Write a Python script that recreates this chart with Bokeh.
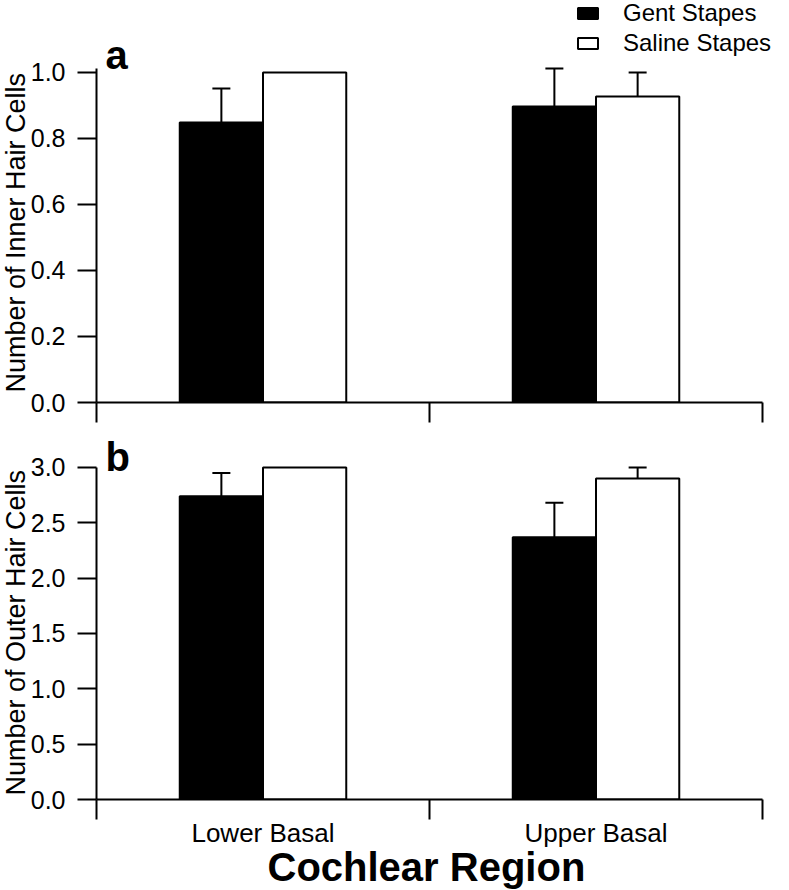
import numpy as np
from bokeh.plotting import figure
from bokeh.models import (ColumnDataSource, Whisker, TeeHead, FixedTicker, Title,
                          NumeralTickFormatter, Legend, LegendItem, Label, Range1d)
from bokeh.layouts import column
from bokeh.embed import file_html
from bokeh.resources import INLINE

# ---------------- data ----------------
categories = ["Lower Basal", "Upper Basal"]
series_names = ["Gent Stapes", "Saline Stapes"]

inner_gent = [0.848, 0.897]
inner_gent_err = [0.103, 0.115]
inner_saline = [1.00, 0.927]
inner_saline_err = [0.0, 0.073]

outer_gent = [2.74, 2.37]
outer_gent_err = [0.21, 0.31]
outer_saline = [3.00, 2.90]
outer_saline_err = [0.0, 0.10]

inner_ticks = [0.0, 0.2, 0.4, 0.6, 0.8, 1.0]
outer_ticks = [0.0, 0.5, 1.0, 1.5, 2.0, 2.5, 3.0]

FONT = "Liberation Sans"
BAR_W = 0.25
X_END = 2.033   # a little room right of the axis end for the legend text


def make_panel(gent, gent_err, saline, saline_err, y_end, axis_top, ticks, ylabel,
               ylabel_offset, letter, letter_y, height, bottom, show_labels):
    idx = np.arange(len(categories))
    x_gent = idx + 0.5 - BAR_W / 2
    x_sal = idx + 0.5 + BAR_W / 2

    p = figure(width=773, height=height,
               x_range=Range1d(0, X_END), y_range=Range1d(0, y_end),
               output_backend="svg", toolbar_location=None,
               min_border_left=96, min_border_right=0,
               min_border_top=0, min_border_bottom=bottom)
    p.outline_line_color = None
    p.grid.visible = False
    p.background_fill_color = "white"

    src_g = ColumnDataSource(dict(x=x_gent, top=gent))
    src_s = ColumnDataSource(dict(x=x_sal, top=saline))
    rg = p.vbar(x="x", top="top", bottom=0, width=BAR_W, source=src_g,
                fill_color="black", line_color="black", line_width=2)
    rs = p.vbar(x="x", top="top", bottom=0, width=BAR_W, source=src_s,
                fill_color="white", line_color="black", line_width=2)

    # error bars (upper only)
    for xs, vals, errs in ((x_gent, gent, gent_err), (x_sal, saline, saline_err)):
        keep = [i for i, e in enumerate(errs) if e > 0]
        if not keep:
            continue
        es = ColumnDataSource(dict(
            x=[xs[i] for i in keep],
            lower=[vals[i] for i in keep],
            upper=[vals[i] + errs[i] for i in keep]))
        w = Whisker(base="x", lower="lower", upper="upper", source=es,
                    line_width=2, line_color="black",
                    upper_head=TeeHead(size=18, line_width=2, line_color="black"),
                    lower_head=None)
        p.add_layout(w)

    # y axis
    ya = p.yaxis[0]
    ya.ticker = FixedTicker(ticks=ticks)
    ya.formatter = NumeralTickFormatter(format="0.0")
    ya.bounds = (0, axis_top)
    ya.axis_line_width = 2
    ya.major_tick_line_width = 2
    ya.major_tick_out = 19
    ya.major_tick_in = 0
    ya.minor_tick_line_color = None
    ya.major_label_text_font = FONT
    ya.major_label_text_font_size = "25px"
    ya.major_label_text_color = "black"
    ya.major_label_standoff = 12

    p.add_layout(Title(text=ylabel, align="left", offset=ylabel_offset,
                       vertical_align="bottom",
                       text_font=FONT, text_font_size="27px",
                       text_font_style="normal", text_color="black",
                       standoff=-7), "left")

    # x axis: boundary ticks as minor ticks, labels at category centres
    xa = p.xaxis[0]
    xa.bounds = (0, len(categories))
    if show_labels:
        xa.ticker = FixedTicker(ticks=list(idx + 0.5),
                                minor_ticks=list(range(len(categories) + 1)))
        xa.major_label_overrides = {float(i + 0.5): c for i, c in enumerate(categories)}
        xa.major_label_text_font = FONT
        xa.major_label_text_font_size = "26px"
        xa.major_label_text_color = "black"
        xa.major_label_standoff = -2
        p.add_layout(Title(text="Cochlear Region", align="left", offset=171,
                           vertical_align="top",
                           text_font=FONT, text_font_size="40px",
                           text_font_style="bold", text_color="black",
                           standoff=-12), "below")
    else:
        xa.ticker = FixedTicker(ticks=[], minor_ticks=list(range(len(categories) + 1)))
    xa.axis_line_width = 2
    xa.major_tick_out = 0
    xa.major_tick_in = 0
    xa.major_tick_line_color = None
    xa.minor_tick_line_width = 2
    xa.minor_tick_line_color = "black"
    xa.minor_tick_out = 20
    xa.minor_tick_in = 0

    p.add_layout(Label(x=0.027, y=letter_y, text=letter, text_font=FONT,
                       text_font_size="40px", text_font_style="bold",
                       text_color="black", text_baseline="alphabetic"))
    return p, rg, rs


pa, rga, rsa = make_panel(inner_gent, inner_gent_err, inner_saline, inner_saline_err,
                          1.218, 1.012, inner_ticks, "Number of Inner Hair Cells", 10,
                          "a", 1.052, 424, 22, False)
pb, _, _ = make_panel(outer_gent, outer_gent_err, outer_saline, outer_saline_err,
                      3.388, 3.0, outer_ticks, "Number of Outer Hair Cells", 4,
                      "b", 3.09, 465, 90, True)

legend = Legend(items=[LegendItem(label=series_names[0], renderers=[rga]),
                       LegendItem(label=series_names[1], renderers=[rsa])],
                location=(479, 345), orientation="vertical",
                padding=0, margin=0, spacing=2,
                glyph_width=25, glyph_height=14, label_standoff=23,
                label_text_font=FONT, label_text_font_size="24px",
                label_text_color="black",
                border_line_alpha=0, background_fill_alpha=0)
pa.add_layout(legend)

layout = column(pa, pb, spacing=0)
open("out.html", "w").write(file_html(layout, INLINE))
